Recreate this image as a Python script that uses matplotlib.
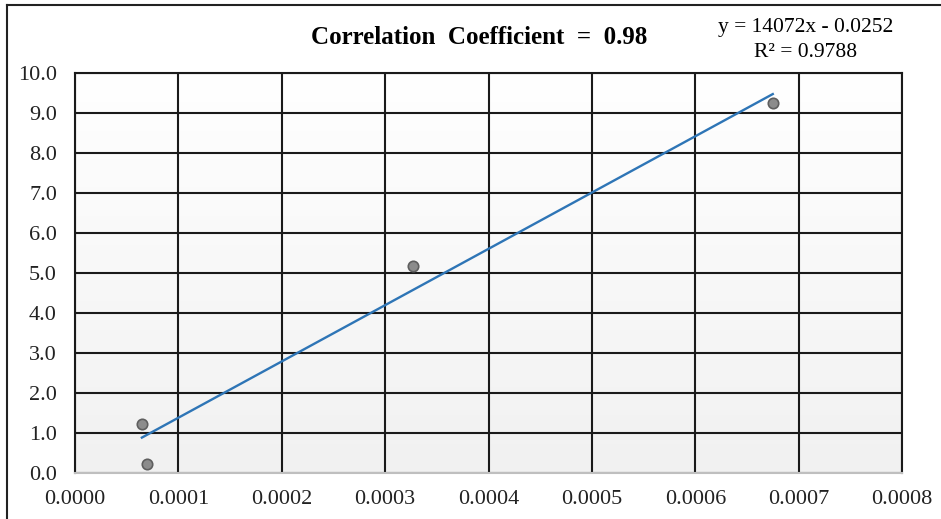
import matplotlib.pyplot as plt
import numpy as np
from matplotlib.lines import Line2D

# sample values
x_vals = [0.0000647, 0.0000696, 0.000327, 0.000675]
y_vals = [1.225, 0.225, 5.175, 9.25]

# fitted trendline (as reported in the label)
slope = 14072
intercept = -0.0252
r_squared = 0.9788
corr_label = "0.98"

x_ticks = np.arange(0, 0.00081, 0.0001)
y_ticks = np.arange(0, 10.1, 1.0)

plt.rcParams['font.family'] = ['Liberation Serif', 'DejaVu Serif']

fig = plt.figure(figsize=(9.41, 5.19), dpi=100)
W, H = 941, 519
ax = fig.add_axes([75 / W, (H - 473) / H, 827 / W, 400 / H])

# soft vertical gradient inside the plot area
grad = np.linspace(0, 1, 256).reshape(-1, 1)
ax.imshow(grad, extent=[0, 1, 0, 1], transform=ax.transAxes, aspect='auto',
          cmap=plt.matplotlib.colors.LinearSegmentedColormap.from_list('bg', ['#f1f1f1', '#ffffff']),
          origin='lower', zorder=0)

ax.set_xlim(0, 0.0008)
ax.set_ylim(0, 10)
ax.set_xticks(x_ticks)
ax.set_yticks(y_ticks)
ax.set_xticklabels([f"{v:.4f}" for v in x_ticks])
ax.set_yticklabels([f"{v:.1f}" for v in y_ticks])
ax.tick_params(length=0, labelsize=16, colors='#222222')
ax.tick_params(axis='x', pad=12)
ax.tick_params(axis='y', pad=13)

ax.grid(True, color='#1a1a1a', linewidth=1.5, zorder=1)
ax.set_axisbelow(True)
for side in ['top', 'left', 'right']:
    ax.spines[side].set_color('#1a1a1a')
    ax.spines[side].set_linewidth(1.5)
ax.spines['bottom'].set_color('#bfbfbf')
ax.spines['bottom'].set_linewidth(1.5)

# trendline over the data range
xl = np.array([min(x_vals), max(x_vals)])
ax.plot(xl, slope * xl + intercept, color='#2e75b6', linewidth=1.7, zorder=3)

ax.plot(x_vals, y_vals, linestyle='none', marker='o', markersize=7.5,
        markerfacecolor='#8c8c8c', markeredgecolor='#5f5f5f', markeredgewidth=1.2,
        zorder=4, clip_on=False)

fig.text(479.5 / W, 1 - 37 / H, f"Correlation  Coefficient  =  {corr_label}",
         ha='center', va='center', fontsize=18, fontweight='bold')
fig.text(806 / W, 1 - 40 / H, f"y = {slope}x - {abs(intercept):.4f}\nR² = {r_squared:.4f}",
         ha='center', va='center', multialignment='center', fontsize=15.5, linespacing=1.38)

# outer chart frame
fig.add_artist(Line2D([7 / W, 1], [1 - 5 / H, 1 - 5 / H], transform=fig.transFigure,
                      color='#222222', linewidth=1.5))
fig.add_artist(Line2D([7 / W, 7 / W], [0, 1 - 5 / H], transform=fig.transFigure,
                      color='#222222', linewidth=1.5))

fig.savefig('out.png', dpi=100)
